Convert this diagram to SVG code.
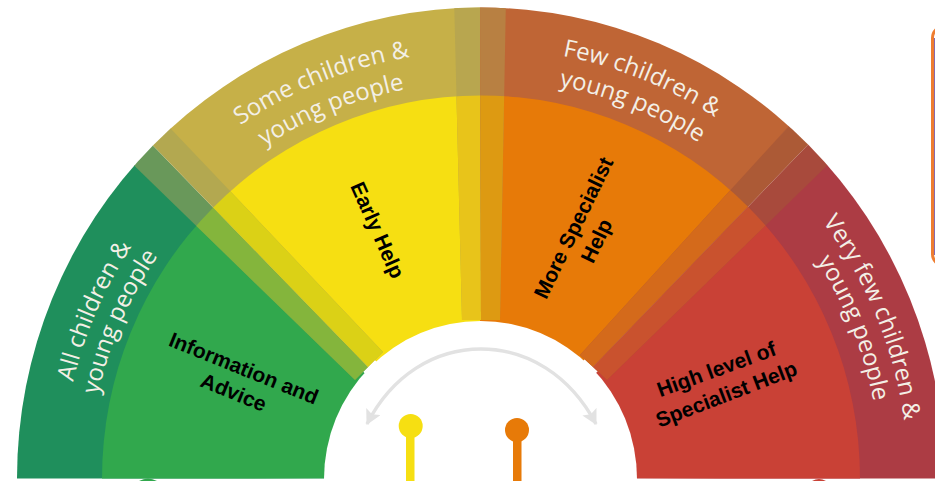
<svg xmlns="http://www.w3.org/2000/svg" width="935" height="481" viewBox="0 0 935 481">
<style>
.w{font-family:"Open Sans","Liberation Sans",sans-serif;font-size:24px;font-weight:500;fill:#f3efe6;text-anchor:middle}
.b{font-family:"Liberation Sans",Arial,sans-serif;font-size:21px;font-weight:700;fill:#000;text-anchor:middle}
.arc{fill:none;stroke:#e2e2e2;stroke-width:3.5}
.outer{clip-path:url(#co)}
.mid{clip-path:url(#cm)}
</style>
<defs>
<clipPath id="co"><path d="M17 478.500A464 471 0 0 1 945 478.500Z"/></clipPath>
<clipPath id="cm"><path d="M102 478.500A379 383 0 0 1 860 478.500Z"/></clipPath>
<marker id="ah" markerUnits="userSpaceOnUse" markerWidth="18" markerHeight="18" refX="14" refY="8" orient="auto-start-reverse"><path d="M0 0L15 8L0 16L3 8Z" fill="#e2e2e2"/></marker>
<path id="r392" d="M89 478A392 392 0 0 1 873 478"/>
<path id="r419" d="M62 478A419 419 0 0 1 900 478"/>
<path id="r396" d="M85 478A396 396 0 0 1 877 478"/>
<path id="r400" d="M81 478A400 400 0 0 1 881 478"/>
<path id="r427" d="M54 478A427 427 0 0 1 908 478"/>
<path id="r430" d="M51 478A430 430 0 0 1 911 478"/>
</defs>

<g id="segment-green">
<polygon class="outer" fill="#1f8f5c" points="480,478 115,147 0,147 0,480"/>
<polygon class="mid" fill="#31a84d" points="480,478 115,147 0,147 0,480"/>
</g>
<g id="segment-yellow">
<polygon class="outer" fill="#c6b048" points="480,478 153,110 153,-3 480,-3"/>
<polygon class="mid" fill="#f6df12" points="480,478 153,110 153,-3 480,-3"/>
</g>
<g id="segment-orange">
<polygon class="outer" fill="#bf6535" points="480,478 480,-3 808,-3 808,105"/>
<polygon class="mid" fill="#e77a08" points="480,478 480,-3 808,-3 808,105"/>
</g>
<g id="segment-red">
<polygon class="outer" fill="#ac3c44" points="480,478 845,148 960,148 960,480"/>
<polygon class="mid" fill="#c94136" points="480,478 845,148 960,148 960,480"/>
</g>
<g id="bands">
<polygon class="outer" fill="#69985a" points="355,380 115,147 134,126 368,367"/>
<polygon class="mid" fill="#84b53c" points="355,380 115,147 134,126 368,367"/>
<polygon class="outer" fill="#b3a850" points="368,367 134,126 153,110 383,352"/>
<polygon class="mid" fill="#dbd116" points="368,367 134,126 153,110 383,352"/>
<polygon class="outer" fill="#b8a64f" points="462,320 454,-3 480,-3 481,320"/>
<polygon class="mid" fill="#e8c41a" points="462,320 454,-3 480,-3 481,320"/>
<polygon class="outer" fill="#b88042" points="481,320 480,-3 506,-3 500,320"/>
<polygon class="mid" fill="#dd9a12" points="481,320 480,-3 506,-3 500,320"/>
<polygon class="outer" fill="#ac5a36" points="580,355 808,105 828,124 593,367"/>
<polygon class="mid" fill="#d46a1b" points="580,355 808,105 828,124 593,367"/>
<polygon class="outer" fill="#a84a3c" points="593,367 828,124 845,148 607,380"/>
<polygon class="mid" fill="#c9522e" points="593,367 828,124 845,148 607,380"/>
</g>
<g id="hub"><path d="M324 479A156.500 158 0 0 1 637 479Z" fill="#fff"/></g>

<g id="connectors">
<path class="arc" d="M367 424C392 375 435 349 481 349C527 349 570 375 596 424" marker-start="url(#ah)" marker-end="url(#ah)"/>
</g>
<g id="pin-yellow"><rect x="406" y="430" width="8.500" height="51" fill="#f6df12"/><circle cx="410.700" cy="426" r="12" fill="#f6df12"/></g>
<g id="pin-orange"><rect x="513" y="434" width="8.500" height="47" fill="#e77a08"/><circle cx="517" cy="430" r="12" fill="#e77a08"/></g>

<g id="label-all">
<text class="w"><textPath href="#r419" startOffset="13%">All children &amp;</textPath></text>
<text class="w"><textPath href="#r392" startOffset="13%">young people</textPath></text>
<text class="b" transform="translate(241 375) rotate(22)">Information and</text>
<text class="b" transform="translate(231 399) rotate(22)">Advice</text>
</g>
<g id="label-some">
<text class="w"><textPath href="#r427" startOffset="37.800%">Some children &amp;</textPath></text>
<text class="w"><textPath href="#r396" startOffset="37.700%">young people</textPath></text>
<text class="b" transform="translate(371 233) rotate(66)">Early Help</text>
</g>
<g id="label-few">
<text class="w"><textPath href="#r430" startOffset="62.200%">Few children &amp;</textPath></text>
<text class="w"><textPath href="#r400" startOffset="62.300%">young people</textPath></text>
<text class="b" transform="translate(580 231) rotate(-64)">More Specialist</text>
<text class="b" transform="translate(603 244) rotate(-64)">Help</text>
</g>
<g id="label-very">
<text class="w"><textPath href="#r427" startOffset="87.600%">Very few children &amp;</textPath></text>
<text class="w"><textPath href="#r400" startOffset="87.800%">young people</textPath></text>
<text class="b" transform="translate(719 376) rotate(-20)">High level of</text>
<text class="b" transform="translate(729 401) rotate(-21)">Specialist Help</text>
</g>

<g id="side-box">
<rect x="932.500" y="26" width="30" height="240" rx="12" fill="#fff" stroke="#ee7d31" stroke-width="3"/>
<line x1="934.600" y1="38" x2="934.600" y2="255" stroke="#7b5aa6" stroke-width="1"/>
</g>
<g id="stubs">
<path d="M139 481Q148 476 157 481Z" fill="#31a84d"/>
<path d="M812 481Q819 477 826 481Z" fill="#c94136"/>
</g>
</svg>
